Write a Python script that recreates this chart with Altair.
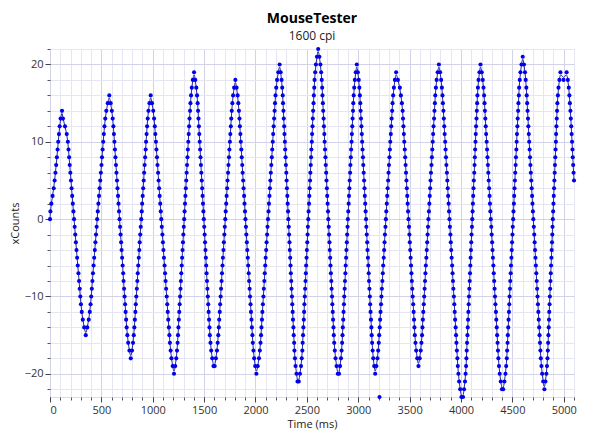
import altair as alt
import pandas as pd

# ---- axis tick values ----
x_major = [0, 500, 1000, 1500, 2000, 2500, 3000, 3500, 4000, 4500, 5000]
x_minor = [0, 100, 200, 300, 400, 500, 600, 700, 800, 900, 1000, 1100, 1200, 1300, 1400,
           1500, 1600, 1700, 1800, 1900, 2000, 2100, 2200, 2300, 2400, 2500, 2600, 2700,
           2800, 2900, 3000, 3100, 3200, 3300, 3400, 3500, 3600, 3700, 3800, 3900, 4000,
           4100, 4200, 4300, 4400, 4500, 4600, 4700, 4800, 4900, 5000, 5100]
y_major = [-20, -10, 0, 10, 20]
y_minor = [-22, -20, -18, -16, -14, -12, -10, -8, -6, -4, -2, 0, 2, 4, 6, 8, 10, 12,
           14, 16, 18, 20, 22]

# ---- samples: time (ms) and xCounts, one list pair per half swing ----
t00 = [0, 4, 13, 25, 36, 45, 53, 60, 67, 74, 80, 87, 94, 103]
c00 = [0, 1, 2, 3, 4, 5, 6, 7, 8, 9, 10, 11, 12, 13]

t01 = [117, 126, 146, 163, 174, 180, 186, 192, 198, 204, 210, 216, 222, 228, 234, 240, 246,
       252, 258, 264, 270, 277, 283, 289, 295, 301, 309, 319, 333]
c01 = [14, 13, 12, 11, 10, 9, 8, 7, 6, 5, 4, 3, 2, 1, 0, -1, -2, -3, -4, -5, -6, -7, -8, -9,
       -10, -11, -12, -13, -14]

t02 = [348, 363, 377, 387, 395, 401, 407, 413, 418, 424, 430, 436, 442, 448, 454, 459, 465,
       471, 477, 483, 489, 495, 501, 506, 512, 518, 524, 530, 538, 548, 562]
c02 = [-15, -14, -13, -12, -11, -10, -9, -8, -7, -6, -5, -4, -3, -2, -1, 0, 1, 2, 3, 4, 5, 6,
       7, 8, 9, 10, 11, 12, 13, 14, 15]

t03 = [577, 590, 602, 610, 617, 622, 627, 632, 637, 642, 647, 652, 657, 662, 667, 672, 677,
       682, 687, 692, 697, 702, 707, 712, 716, 721, 726, 731, 736, 741, 746, 753, 761, 773]
c03 = [16, 15, 14, 13, 12, 11, 10, 9, 8, 7, 6, 5, 4, 3, 2, 1, 0, -1, -2, -3, -4, -5, -6, -7,
       -8, -9, -10, -11, -12, -13, -14, -15, -16, -17]

t04 = [786, 798, 808, 815, 821, 826, 831, 835, 840, 845, 850, 854, 859, 864, 869, 873, 878,
       883, 888, 893, 897, 902, 907, 912, 916, 921, 926, 931, 935, 940, 945, 951, 958, 968]
c04 = [-18, -17, -16, -15, -14, -13, -12, -11, -10, -9, -8, -7, -6, -5, -4, -3, -2, -1, 0, 1,
       2, 3, 4, 5, 6, 7, 8, 9, 10, 11, 12, 13, 14, 15]

t05 = [980, 993, 1005, 1013, 1020, 1025, 1031, 1036, 1041, 1046, 1052, 1057, 1062, 1067, 1073,
       1078, 1083, 1088, 1094, 1099, 1104, 1109, 1115, 1120, 1125, 1130, 1136, 1141, 1146,
       1151, 1157, 1162, 1167, 1174, 1182, 1194]
c05 = [16, 15, 14, 13, 12, 11, 10, 9, 8, 7, 6, 5, 4, 3, 2, 1, 0, -1, -2, -3, -4, -5, -6, -7,
       -8, -9, -10, -11, -12, -13, -14, -15, -16, -17, -18, -19]

t06 = [1207, 1219, 1229, 1236, 1242, 1246, 1250, 1254, 1258, 1262, 1266, 1270, 1274, 1278,
       1282, 1286, 1290, 1294, 1298, 1302, 1306, 1310, 1314, 1318, 1322, 1326, 1330, 1334,
       1338, 1342, 1346, 1350, 1354, 1358, 1363, 1367, 1373, 1380, 1390]
c06 = [-20, -19, -18, -17, -16, -15, -14, -13, -12, -11, -10, -9, -8, -7, -6, -5, -4, -3, -2,
       -1, 0, 1, 2, 3, 4, 5, 6, 7, 8, 9, 10, 11, 12, 13, 14, 15, 16, 17, 18]

t07 = [1402, 1414, 1424, 1431, 1437, 1441, 1445, 1449, 1453, 1457, 1461, 1465, 1469, 1473,
       1477, 1481, 1485, 1489, 1493, 1497, 1501, 1505, 1509, 1513, 1517, 1520, 1524, 1528,
       1532, 1536, 1540, 1544, 1548, 1552, 1556, 1562, 1569, 1579]
c07 = [19, 18, 17, 16, 15, 14, 13, 12, 11, 10, 9, 8, 7, 6, 5, 4, 3, 2, 1, 0, -1, -2, -3, -4,
       -5, -6, -7, -8, -9, -10, -11, -12, -13, -14, -15, -16, -17, -18]

t08 = [1591, 1603, 1615, 1625, 1632, 1638, 1643, 1647, 1652, 1656, 1661, 1665, 1670, 1674,
       1679, 1683, 1688, 1692, 1697, 1701, 1706, 1710, 1715, 1719, 1724, 1728, 1733, 1737,
       1742, 1746, 1751, 1755, 1760, 1764, 1769, 1775, 1782, 1792]
c08 = [-19, -19, -18, -17, -16, -15, -14, -13, -12, -11, -10, -9, -8, -7, -6, -5, -4, -3, -2,
       -1, 0, 1, 2, 3, 4, 5, 6, 7, 8, 9, 10, 11, 12, 13, 14, 15, 16, 17]

t09 = [1804, 1816, 1826, 1833, 1839, 1844, 1848, 1853, 1857, 1862, 1866, 1871, 1875, 1880,
       1884, 1889, 1893, 1898, 1902, 1907, 1911, 1916, 1920, 1925, 1929, 1934, 1938, 1943,
       1947, 1952, 1956, 1961, 1965, 1970, 1974, 1980, 1987, 1997]
c09 = [18, 17, 16, 15, 14, 13, 12, 11, 10, 9, 8, 7, 6, 5, 4, 3, 2, 1, 0, -1, -2, -3, -4, -5,
       -6, -7, -8, -9, -10, -11, -12, -13, -14, -15, -16, -17, -18, -19]

t10 = [2009, 2022, 2034, 2042, 2049, 2054, 2058, 2063, 2067, 2072, 2077, 2081, 2086, 2090,
       2095, 2099, 2104, 2108, 2113, 2117, 2122, 2127, 2131, 2136, 2140, 2145, 2149, 2154,
       2159, 2163, 2168, 2172, 2177, 2181, 2186, 2190, 2195, 2202, 2210, 2222]
c10 = [-20, -19, -18, -17, -16, -15, -14, -13, -12, -11, -10, -9, -8, -7, -6, -5, -4, -3, -2,
       -1, 0, 1, 2, 3, 4, 5, 6, 7, 8, 9, 10, 11, 12, 13, 14, 15, 16, 17, 18, 19]

t11 = [2235, 2245, 2254, 2260, 2265, 2268, 2272, 2275, 2279, 2282, 2286, 2289, 2293, 2296,
       2300, 2303, 2306, 2310, 2313, 2317, 2320, 2324, 2327, 2331, 2334, 2338, 2341, 2344,
       2348, 2351, 2355, 2358, 2362, 2365, 2369, 2372, 2376, 2379, 2384, 2390, 2399]
c11 = [20, 19, 18, 17, 16, 15, 14, 13, 12, 11, 10, 9, 8, 7, 6, 5, 4, 3, 2, 1, 0, -1, -2, -3,
       -4, -5, -6, -7, -8, -9, -10, -11, -12, -13, -14, -15, -16, -17, -18, -19, -20]

t12 = [2409, 2421, 2433, 2443, 2450, 2456, 2459, 2463, 2466, 2470, 2473, 2476, 2480, 2483,
       2487, 2490, 2493, 2497, 2500, 2504, 2507, 2510, 2514, 2517, 2521, 2524, 2527, 2531,
       2534, 2538, 2541, 2544, 2548, 2551, 2555, 2558, 2561, 2565, 2568, 2572, 2575, 2581,
       2588, 2598]
c12 = [-21, -21, -20, -19, -18, -17, -16, -15, -14, -13, -12, -11, -10, -9, -8, -7, -6, -5,
       -4, -3, -2, -1, 0, 1, 2, 3, 4, 5, 6, 7, 8, 9, 10, 11, 12, 13, 14, 15, 16, 17, 18, 19,
       20, 21]

t13 = [2610, 2622, 2632, 2639, 2645, 2649, 2652, 2656, 2659, 2663, 2666, 2670, 2673, 2677,
       2681, 2684, 2688, 2691, 2695, 2698, 2702, 2706, 2709, 2713, 2716, 2720, 2723, 2727,
       2730, 2734, 2738, 2741, 2745, 2748, 2752, 2755, 2759, 2762, 2766, 2772, 2779, 2789]
c13 = [22, 21, 20, 19, 18, 17, 16, 15, 14, 13, 12, 11, 10, 9, 8, 7, 6, 5, 4, 3, 2, 1, 0, -1,
       -2, -3, -4, -5, -6, -7, -8, -9, -10, -11, -12, -13, -14, -15, -16, -17, -18, -19]

t14 = [2801, 2813, 2823, 2832, 2838, 2843, 2847, 2850, 2854, 2857, 2861, 2864, 2868, 2871,
       2875, 2878, 2882, 2885, 2889, 2892, 2896, 2899, 2903, 2907, 2910, 2914, 2917, 2921,
       2924, 2928, 2931, 2935, 2938, 2942, 2945, 2949, 2952, 2956, 2961, 2967, 2976]
c14 = [-20, -20, -19, -18, -17, -16, -15, -14, -13, -12, -11, -10, -9, -8, -7, -6, -5, -4,
       -3, -2, -1, 0, 1, 2, 3, 4, 5, 6, 7, 8, 9, 10, 11, 12, 13, 14, 15, 16, 17, 18, 19]

t15 = [2986, 2996, 3005, 3011, 3016, 3020, 3023, 3027, 3031, 3035, 3038, 3042, 3046, 3049,
       3053, 3057, 3061, 3064, 3068, 3072, 3076, 3079, 3083, 3087, 3090, 3094, 3098, 3102,
       3105, 3109, 3113, 3116, 3120, 3124, 3128, 3131, 3135, 3140, 3146, 3155]
c15 = [20, 19, 18, 17, 16, 15, 14, 13, 12, 11, 10, 9, 8, 7, 6, 5, 4, 3, 2, 1, 0, -1, -2, -3,
       -4, -5, -6, -7, -8, -9, -10, -11, -12, -13, -14, -15, -16, -17, -18, -19]

t16 = [3165, 3177, 3187, 3194, 3200, 3204, 3209, 3213, 3217, 3222, 3226, 3230, 3235, 3239,
       3243, 3248, 3252, 3256, 3260, 3265, 3269, 3273, 3278, 3282, 3286, 3291, 3295, 3299,
       3304, 3308, 3312, 3317, 3321, 3325, 3330, 3334, 3340, 3347, 3357]
c16 = [-20, -19, -18, -17, -16, -15, -14, -13, -12, -11, -10, -9, -8, -7, -6, -5, -4, -3, -2,
       -1, 0, 1, 2, 3, 4, 5, 6, 7, 8, 9, 10, 11, 12, 13, 14, 15, 16, 17, 18]

t17 = [3369, 3386, 3405, 3415, 3425, 3432, 3436, 3440, 3444, 3448, 3453, 3457, 3461, 3465,
       3469, 3473, 3477, 3481, 3485, 3489, 3494, 3498, 3502, 3506, 3510, 3514, 3518, 3522,
       3526, 3530, 3535, 3539, 3543, 3547, 3551, 3557, 3564, 3574]
c17 = [19, 18, 17, 16, 15, 14, 13, 12, 11, 10, 9, 8, 7, 6, 5, 4, 3, 2, 1, 0, -1, -2, -3, -4,
       -5, -6, -7, -8, -9, -10, -11, -12, -13, -14, -15, -16, -17, -18]

t18 = [3586, 3598, 3608, 3615, 3621, 3625, 3629, 3633, 3638, 3642, 3646, 3650, 3654, 3658,
       3663, 3667, 3671, 3675, 3679, 3683, 3688, 3692, 3696, 3700, 3704, 3708, 3713, 3717,
       3721, 3725, 3729, 3733, 3738, 3742, 3746, 3750, 3756, 3763, 3773]
c18 = [-19, -18, -17, -16, -15, -14, -13, -12, -11, -10, -9, -8, -7, -6, -5, -4, -3, -2, -1,
       0, 1, 2, 3, 4, 5, 6, 7, 8, 9, 10, 11, 12, 13, 14, 15, 16, 17, 18, 19]

t19 = [3785, 3797, 3807, 3814, 3820, 3824, 3829, 3833, 3837, 3841, 3846, 3850, 3854, 3858,
       3863, 3867, 3871, 3875, 3880, 3884, 3888, 3892, 3897, 3901, 3905, 3909, 3914, 3918,
       3922, 3926, 3931, 3935, 3939, 3943, 3948, 3952, 3956, 3960, 3965, 3969, 3975, 3982,
       3992]
c19 = [20, 19, 18, 17, 16, 15, 14, 13, 12, 11, 10, 9, 8, 7, 6, 5, 4, 3, 2, 1, 0, -1, -2, -3,
       -4, -5, -6, -7, -8, -9, -10, -11, -12, -13, -14, -15, -16, -17, -18, -19, -20, -21,
       -22]

t20 = [4004, 4020, 4030, 4039, 4045, 4050, 4053, 4056, 4059, 4063, 4066, 4069, 4072, 4075,
       4078, 4081, 4085, 4088, 4091, 4094, 4097, 4100, 4103, 4107, 4110, 4113, 4116, 4119,
       4122, 4125, 4129, 4132, 4135, 4138, 4141, 4144, 4147, 4151, 4154, 4157, 4160, 4165,
       4171, 4180]
c20 = [-23, -23, -22, -21, -20, -19, -18, -17, -16, -15, -14, -13, -12, -11, -10, -9, -8, -7,
       -6, -5, -4, -3, -2, -1, 0, 1, 2, 3, 4, 5, 6, 7, 8, 9, 10, 11, 12, 13, 14, 15, 16, 17,
       18, 19]

t21 = [4190, 4202, 4212, 4219, 4225, 4229, 4233, 4237, 4241, 4245, 4250, 4254, 4258, 4262,
       4266, 4270, 4274, 4278, 4282, 4286, 4290, 4295, 4299, 4303, 4307, 4311, 4315, 4319,
       4323, 4327, 4331, 4335, 4340, 4344, 4348, 4352, 4356, 4360, 4364, 4370, 4377, 4387]
c21 = [20, 19, 18, 17, 16, 15, 14, 13, 12, 11, 10, 9, 8, 7, 6, 5, 4, 3, 2, 1, 0, -1, -2, -3,
       -4, -5, -6, -7, -8, -9, -10, -11, -12, -13, -14, -15, -16, -17, -18, -19, -20, -21]

t22 = [4399, 4411, 4423, 4433, 4440, 4446, 4449, 4453, 4456, 4460, 4463, 4467, 4470, 4473,
       4477, 4480, 4484, 4487, 4491, 4494, 4497, 4501, 4504, 4508, 4511, 4515, 4518, 4521,
       4525, 4528, 4532, 4535, 4539, 4542, 4545, 4549, 4552, 4556, 4559, 4563, 4566, 4572,
       4579, 4589]
c22 = [-22, -22, -21, -20, -19, -18, -17, -16, -15, -14, -13, -12, -11, -10, -9, -8, -7, -6,
       -5, -4, -3, -2, -1, 0, 1, 2, 3, 4, 5, 6, 7, 8, 9, 10, 11, 12, 13, 14, 15, 16, 17, 18,
       19, 20]

t23 = [4601, 4613, 4623, 4630, 4636, 4640, 4644, 4648, 4652, 4656, 4660, 4664, 4668, 4672,
       4676, 4680, 4684, 4688, 4692, 4696, 4700, 4704, 4709, 4713, 4717, 4721, 4725, 4729,
       4733, 4737, 4741, 4745, 4749, 4753, 4757, 4761, 4765, 4769, 4773, 4777, 4783, 4790,
       4800]
c23 = [21, 20, 19, 18, 17, 16, 15, 14, 13, 12, 11, 10, 9, 8, 7, 6, 5, 4, 3, 2, 1, 0, -1, -2,
       -3, -4, -5, -6, -7, -8, -9, -10, -11, -12, -13, -14, -15, -16, -17, -18, -19, -20,
       -21]

t24 = [4812, 4822, 4831, 4837, 4842, 4845, 4848, 4851, 4854, 4857, 4859, 4862, 4865, 4868,
       4871, 4874, 4877, 4880, 4883, 4886, 4889, 4891, 4894, 4897, 4900, 4903, 4906, 4909,
       4912, 4915, 4918, 4921, 4924, 4926, 4929, 4932, 4935, 4938, 4943, 4949, 4958]
c24 = [-22, -21, -20, -19, -18, -17, -16, -15, -14, -13, -12, -11, -10, -9, -8, -7, -6, -5,
       -4, -3, -2, -1, 0, 1, 2, 3, 4, 5, 6, 7, 8, 9, 10, 11, 12, 13, 14, 15, 16, 17, 18]

t25 = [4968, 4998, 5028, 5040, 5049, 5055, 5060, 5065, 5069, 5073, 5077, 5081, 5085, 5088,
       5092, 5096, 5100]
c25 = [19, 18, 19, 18, 17, 16, 15, 14, 13, 12, 11, 10, 9, 8, 7, 6, 5]

# stray report that sits off the traced curve
stray_t = [3207]
stray_c = [-23]

segments = [(t00, c00), (t01, c01), (t02, c02), (t03, c03), (t04, c04), (t05, c05),
            (t06, c06), (t07, c07), (t08, c08), (t09, c09), (t10, c10), (t11, c11),
            (t12, c12), (t13, c13), (t14, c14), (t15, c15), (t16, c16), (t17, c17),
            (t18, c18), (t19, c19), (t20, c20), (t21, c21), (t22, c22), (t23, c23),
            (t24, c24), (t25, c25)]

rows = []
for ts, cs in segments:
    for t, c in zip(ts, cs):
        rows.append({"t": t, "c": c})
line_df = pd.DataFrame(rows)
pts_df = pd.concat([line_df, pd.DataFrame({"t": stray_t, "c": stray_c})], ignore_index=True)

FONT = "Open Sans"
xscale = alt.Scale(domain=[0, 5100], nice=False, zero=False)
yscale = alt.Scale(domain=[-23, 22], nice=False, zero=False)

# minor grid + minor ticks carried by the line layer
line = alt.Chart(line_df).mark_line(
    interpolate="basis", color="#2a2a96", strokeWidth=1
).encode(
    x=alt.X("t:Q", scale=xscale,
            axis=alt.Axis(values=x_minor, orient="bottom", labels=False, title=None,
                          grid=True, gridColor="#e6e6f2", gridWidth=1,
                          ticks=True, tickSize=3, tickColor="#555555", domain=False)),
    y=alt.Y("c:Q", scale=yscale,
            axis=alt.Axis(values=y_minor, orient="left", labels=False, title=None,
                          grid=True, gridColor="#e6e6f2", gridWidth=1,
                          ticks=True, tickSize=3, tickColor="#555555", domain=False)),
)

# major grid, ticks and labels carried by the point layer
points = alt.Chart(pts_df).mark_circle(size=17, color="#0000ee", opacity=1).encode(
    x=alt.X("t:Q", scale=xscale,
            axis=alt.Axis(values=x_major, orient="bottom", title="Time (ms)", format="d",
                          grid=True, gridColor="#d2d3e8", gridWidth=1,
                          tickSize=5, tickColor="#444444", domain=False,
                          labelFont=FONT, labelFontSize=11, labelColor="#333333",
                          labelPadding=2, titleFont=FONT, titleFontSize=11,
                          titleFontWeight="normal", titleColor="#222222", titlePadding=3)),
    y=alt.Y("c:Q", scale=yscale,
            axis=alt.Axis(values=y_major, orient="left", title="xCounts", format="d",
                          grid=True, gridColor="#d2d3e8", gridWidth=1,
                          tickSize=5, tickColor="#444444", domain=False,
                          labelFont=FONT, labelFontSize=11, labelColor="#333333",
                          labelPadding=2, titleFont=FONT, titleFontSize=11,
                          titleFontWeight="normal", titleColor="#222222", titlePadding=4)),
)

chart = alt.layer(line, points).resolve_axis(
    x="independent", y="independent"
).properties(
    width=524,
    height=348,
    title=alt.Title("MouseTester", subtitle="1600 cpi", anchor="middle",
                    font=FONT, fontSize=14, fontWeight="bold", color="#000000",
                    subtitleFont=FONT, subtitleFontSize=12, subtitleColor="#222222",
                    subtitlePadding=5, offset=5),
    autosize=alt.AutoSizeParams(type="none"),
    padding={"left": 42, "top": 41, "right": 8, "bottom": 37},
).configure_view(
    stroke="#444444", strokeWidth=1
).configure(background="white")

chart.save("out.html", embed_options={"renderer": "svg", "actions": False})
